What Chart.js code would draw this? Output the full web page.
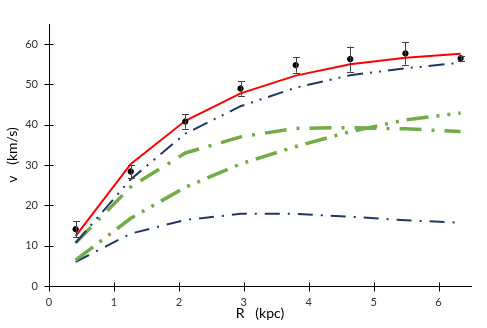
<!DOCTYPE html>
<html><head><meta charset="utf-8">
<script src="https://cdn.jsdelivr.net/npm/chart.js@4.4.0/dist/chart.umd.min.js"></script>
<style>html,body{margin:0;padding:0;background:#fff}#wrap{width:487px;height:328px}</style>
</head><body><div id="wrap"><canvas id="c" width="487" height="328"></canvas></div>
<script>
const radii = [0.41, 1.26, 2.1, 2.95, 3.8, 4.64, 5.49, 6.34];
const observed = [14.1, 28.4, 40.8, 49.0, 54.8, 56.3, 57.7, 56.5];
const observedErr = [2.0, 1.5, 1.8, 1.8, 1.9, 3.1, 2.8, 0.6];
const totalFit = [12.4, 30.3, 41.0, 47.8, 52.2, 55.0, 56.6, 57.6];
const navyUpper = [10.7, 26.5, 37.8, 44.6, 49.2, 52.3, 54.0, 55.4];
const greenUpper = [10.7, 24.6, 33.0, 37.0, 39.1, 39.3, 39.0, 38.3];
const greenLower = [6.4, 16.8, 24.5, 30.3, 34.6, 38.3, 41.2, 42.9];
const navyLower = [6.0, 13.0, 16.4, 17.9, 17.9, 17.2, 16.3, 15.7];
const xTicks = [0, 1, 2, 3, 4, 5, 6];
const yTicks = [0, 10, 20, 30, 40, 50, 60];

const pts = ys => radii.map((x, i) => ({x, y: ys[i]}));
const navy = '#203864', green = '#70AD47';
function line(ys, color, width, dash, order) {
  return {data: pts(ys), showLine: true, borderColor: color, borderWidth: width,
    borderDash: dash, pointRadius: 0, tension: 0, fill: false, order, borderCapStyle: 'butt'};
}

const errPlugin = {
  id: 'errbars',
  afterDatasetsDraw(chart) {
    const ctx = chart.ctx, xs = chart.scales.x, ys = chart.scales.y;
    ctx.save();
    ctx.strokeStyle = '#404040'; ctx.lineWidth = 1;
    radii.forEach((r, i) => {
      const px = Math.round(xs.getPixelForValue(r)) + 0.5;
      const top = ys.getPixelForValue(observed[i] + observedErr[i]);
      const bot = ys.getPixelForValue(observed[i] - observedErr[i]);
      ctx.beginPath();
      ctx.moveTo(px, top); ctx.lineTo(px, bot);
      ctx.moveTo(px - 3.5, Math.round(top) + 0.5); ctx.lineTo(px + 3.5, Math.round(top) + 0.5);
      ctx.moveTo(px - 3.5, Math.round(bot) + 0.5); ctx.lineTo(px + 3.5, Math.round(bot) + 0.5);
      ctx.stroke();
    });
    ctx.restore();
  }
};
const crossTicks = {
  id: 'crossTicks',
  afterDraw(chart) {
    const ctx = chart.ctx, xs = chart.scales.x, ys = chart.scales.y;
    const ax = Math.round(xs.getPixelForValue(0)) + 0.5;
    const ay = Math.round(ys.getPixelForValue(0)) + 0.5;
    ctx.save(); ctx.strokeStyle = '#000'; ctx.lineWidth = 1;
    ctx.beginPath();
    xTicks.forEach(t => { const p = Math.round(xs.getPixelForValue(t)) + 0.5; ctx.moveTo(p, ay - 4); ctx.lineTo(p, ay + 5); });
    yTicks.forEach(t => { const p = Math.round(ys.getPixelForValue(t)) + 0.5; ctx.moveTo(ax - 5, p); ctx.lineTo(ax + 4, p); });
    ctx.stroke(); ctx.restore();
  }
};

new Chart(document.getElementById('c'), {
  type: 'scatter',
  data: {datasets: [
    {data: pts(observed), pointRadius: 2.7, pointBackgroundColor: '#000', pointBorderColor: '#000', showLine: false, order: 0},
    line(totalFit, '#FF0000', 2, [], 1),
    line(navyUpper, navy, 2, [16, 7, 2, 7, 2, 7], 2),
    line(greenUpper, green, 3.5, [22, 10, 3, 10], 3),
    line(greenLower, green, 3.5, [22, 8, 3, 8, 3, 8], 4),
    line(navyLower, navy, 2, [15, 8, 2, 8], 5)
  ]},
  options: {
    responsive: false, animation: false,
    layout: {padding: {left: 0, right: 16, top: 24, bottom: 0}},
    plugins: {legend: {display: false}, tooltip: {enabled: false}},
    scales: {
      x: {type: 'linear', min: 0, max: 6.5,
        afterBuildTicks: s => { s.ticks = xTicks.map(v => ({value: v})); },
        afterFit: s => { s.height = 42; },
        grid: {display: false, drawTicks: false},
        border: {display: true, color: '#000', width: 1},
        ticks: {padding: 10, color: '#333', font: {family: 'Lato', size: 11}},
        title: {display: true, text: 'R   (kpc)', color: '#000', font: {family: 'Lato', size: 14}, padding: {top: 0, bottom: 6}}
      },
      y: {type: 'linear', min: 0, max: 65,
        afterBuildTicks: s => { s.ticks = yTicks.map(v => ({value: v})); },
        afterFit: s => { s.width = 49; },
        grid: {display: false, drawTicks: false},
        border: {display: true, color: '#000', width: 1},
        ticks: {padding: 11, color: '#333', font: {family: 'Lato', size: 11}},
        title: {display: true, text: 'v   (km/s)', color: '#000', font: {family: 'Lato', size: 14}, padding: {top: 4, bottom: 0}}
      }
    }
  },
  plugins: [errPlugin, crossTicks]
});
</script></body></html>
